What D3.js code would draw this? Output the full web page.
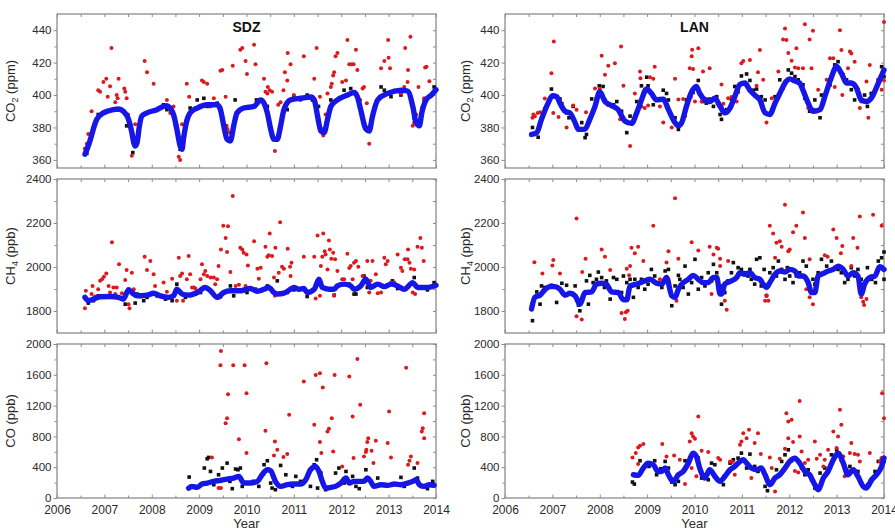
<!DOCTYPE html>
<html><head><meta charset="utf-8">
<script src="https://cdn.jsdelivr.net/npm/d3@7"></script>
<style>
body{margin:0;background:#fff}
svg{display:block}
text{font-family:"Liberation Sans",Arial,sans-serif}
</style>
</head><body>
<svg id="chart" width="895" height="530"></svg>
<script>
// ---------------- DATA ----------------
const yearTicks = [2006,2007,2008,2009,2010,2011,2012,2013,2014];
const yearMinor = [2006.5,2007.5,2008.5,2009.5,2010.5,2011.5,2012.5,2013.5];
const co2Ticks = [360,380,400,420,440];
const co2Minor = [370,390,410,430];
const ch4Ticks = [1800,2000,2200,2400];
const ch4Minor = [1900,2100,2300];
const coTicks = [0,400,800,1200,1600,2000];
const coMinor = [200,600,1000,1400,1800];
const stations = ["SDZ","LAN"];

// SDZ CO2
const sdzCo2Line = [[2006.59,363.5],[2006.66,368.6],[2006.84,385],[2006.98,389],[2007.19,391],[2007.30,391.4],[2007.40,390],[2007.51,385],[2007.58,377],[2007.62,370.6],[2007.65,368.6],[2007.69,370.6],[2007.74,381],[2007.79,387],[2007.90,389],[2008.11,391],[2008.25,393],[2008.32,393.5],[2008.39,392],[2008.46,388],[2008.53,379],[2008.60,368.6],[2008.64,366.6],[2008.67,373],[2008.73,383],[2008.81,389],[2008.96,392],[2009.17,394],[2009.38,394],[2009.45,391],[2009.52,381],[2009.59,372.7],[2009.66,371.7],[2009.73,381],[2009.80,389],[2009.94,392],[2010.16,393],[2010.30,397],[2010.37,395],[2010.44,389],[2010.51,379],[2010.58,372.7],[2010.65,372.7],[2010.72,381],[2010.79,391],[2010.93,397],[2011.14,398],[2011.36,398.8],[2011.43,397],[2011.50,387],[2011.57,377.8],[2011.64,376.8],[2011.71,385],[2011.78,393],[2011.92,397],[2012.13,400],[2012.27,401.6],[2012.34,399],[2012.41,391],[2012.52,379],[2012.59,377.8],[2012.66,387],[2012.77,397],[2012.98,401],[2013.26,403],[2013.40,402.5],[2013.51,393],[2013.58,383],[2013.65,381],[2013.70,389],[2013.79,397],[2013.90,400],[2014.00,403.3]];
const sdzCo2Red = [[2006.59,367],[2006.63,370],[2006.66,376],[2006.73,390],[2006.87,403],[2006.91,402],[2006.98,408],[2007.04,410],[2007.07,399],[2007.12,405.5],[2007.15,429],[2007.23,395.5],[2007.26,400],[2007.28,398],[2007.30,410],[2007.42,404],[2007.44,402],[2007.47,398],[2007.50,388],[2007.58,362.5],[2007.65,382],[2007.85,421],[2007.90,414],[2008.04,407],[2008.32,397],[2008.39,389],[2008.46,393],[2008.50,381],[2008.53,381],[2008.57,362],[2008.60,360],[2008.64,382],[2008.74,407],[2008.79,399],[2009.06,409],[2009.10,408],[2009.17,407],[2009.24,393],[2009.31,398],[2009.45,415],[2009.49,415.5],[2009.56,399],[2009.58,381],[2009.60,379],[2009.63,377],[2009.71,418],[2009.87,428],[2009.91,429],[2009.98,421],[2010.01,413],[2010.16,431],[2010.19,419],[2010.37,410],[2010.40,402],[2010.44,401],[2010.45,405],[2010.49,403],[2010.54,402],[2010.60,365.5],[2010.67,394],[2010.72,395.5],[2010.78,403],[2010.81,414],[2010.86,409],[2010.87,426],[2010.93,419],[2011.00,400],[2011.14,397],[2011.21,424],[2011.43,410],[2011.48,429],[2011.55,399],[2011.59,379],[2011.62,375],[2011.67,388],[2011.71,401],[2011.78,405],[2011.80,407],[2011.83,412],[2011.85,414],[2011.88,424],[2011.92,426],[2012.02,408],[2012.10,409],[2012.13,434],[2012.17,419],[2012.22,419],[2012.26,419],[2012.31,428],[2012.34,415.5],[2012.40,397],[2012.45,404],[2012.48,405],[2012.54,395],[2012.59,370],[2012.84,416.5],[2012.91,421],[2012.99,434],[2013.00,423],[2013.03,416.5],[2013.23,402],[2013.26,401],[2013.33,405],[2013.35,429],[2013.40,408],[2013.41,415.5],[2013.46,436],[2013.51,381],[2013.54,383],[2013.58,388],[2013.63,405],[2013.68,387],[2013.70,392],[2013.75,398],[2013.77,417],[2013.80,417.5],[2013.86,408.5]];
const sdzCo2Black = [[2006.63,364],[2006.87,388],[2007.04,389.5],[2007.30,391],[2007.47,381],[2007.60,364.5],[2007.90,389],[2008.25,394],[2008.32,391],[2008.46,387],[2008.60,366.5],[2008.81,392],[2008.96,397],[2009.10,398],[2009.17,393],[2009.38,395],[2009.45,392],[2009.76,397],[2010.21,397],[2010.44,393],[2010.65,373],[2010.86,391],[2011.00,399],[2011.28,400],[2011.39,397],[2011.52,393],[2011.78,397],[2011.99,398],[2012.06,403],[2012.20,404],[2012.52,380],[2012.84,405],[2012.91,403],[2013.05,399],[2013.26,400],[2013.54,386],[2013.75,397],[2013.96,405]];

// LAN CO2
const lanCo2Line = [[2006.56,375.7],[2006.67,376.8],[2006.77,385],[2006.91,395],[2007.00,399.6],[2007.09,399],[2007.16,395],[2007.27,390],[2007.37,389],[2007.48,383],[2007.55,378.8],[2007.69,379],[2007.79,385],[2007.90,393],[2008.00,402],[2008.11,396],[2008.25,393.5],[2008.39,391],[2008.53,384],[2008.67,382.5],[2008.78,389],[2008.88,397],[2008.99,403.7],[2009.09,401],[2009.20,397],[2009.34,397.5],[2009.45,391],[2009.59,383],[2009.66,381],[2009.73,383],[2009.83,393],[2009.94,402],[2010.04,405.3],[2010.11,401],[2010.22,397],[2010.32,396],[2010.43,398],[2010.54,393],[2010.64,389],[2010.75,392],[2010.85,399],[2010.96,406.6],[2011.06,407.4],[2011.17,403],[2011.27,400],[2011.38,397],[2011.49,389],[2011.59,388],[2011.70,395],[2011.80,401],[2011.94,408.6],[2012.01,410],[2012.12,408.6],[2012.22,407.4],[2012.29,403],[2012.40,395],[2012.50,390],[2012.65,391],[2012.75,399],[2012.89,411],[2013.00,417.6],[2013.10,413.5],[2013.21,407.4],[2013.31,407.4],[2013.42,404.3],[2013.52,397],[2013.63,396],[2013.73,398],[2013.88,407.4],[2014.00,415.5]];
const lanCo2Red = [[2006.58,386],[2006.60,388],[2006.63,387],[2006.69,389],[2006.74,389.4],[2006.84,397.8],[2006.98,413.5],[2007.03,433],[2007.02,389],[2007.13,386.5],[2007.30,380],[2007.44,393.5],[2007.51,391],[2007.71,389.4],[2007.90,404],[2008.00,403.7],[2008.04,424.3],[2008.11,412.5],[2008.18,418],[2008.32,419.6],[2008.43,385],[2008.45,430],[2008.50,405.7],[2008.64,368.6],[2008.74,401],[2008.85,414.5],[2008.86,410.4],[2008.88,393],[2008.95,392],[2009.02,393.5],[2009.06,411],[2009.13,410],[2009.16,417.5],[2009.27,393],[2009.34,383],[2009.52,380],[2009.59,410],[2009.66,397.2],[2009.76,397.5],[2009.80,387],[2009.90,416.5],[2009.94,424],[2009.95,428],[2009.97,416],[2010.01,396],[2010.08,428.8],[2010.15,396],[2010.18,414.5],[2010.25,397.5],[2010.32,416.5],[2010.57,406.5],[2010.61,394.7],[2010.71,398],[2010.78,398.8],[2010.89,396],[2010.92,402],[2010.99,419.6],[2011.03,421],[2011.17,421.6],[2011.31,405.7],[2011.34,414],[2011.38,427.8],[2011.45,409.4],[2011.52,383],[2011.63,398],[2011.77,414.5],[2011.87,434.3],[2011.91,441],[2011.94,434],[2011.98,426],[2012.05,421.2],[2012.12,417],[2012.15,428.8],[2012.19,416.5],[2012.29,416.5],[2012.33,443.7],[2012.40,392],[2012.43,434.3],[2012.47,416.5],[2012.50,439.6],[2012.61,403.3],[2012.79,409.4],[2012.86,422.7],[2012.93,422.7],[2012.96,405],[2013.07,440],[2013.10,427.8],[2013.12,400],[2013.24,416.5],[2013.28,426.8],[2013.31,425.7],[2013.38,420.6],[2013.49,392],[2013.52,396],[2013.63,408.4],[2013.67,386],[2013.70,418.6],[2013.88,409.4],[2013.95,403.3],[2014.00,445],[2014.00,409]];
const lanCo2Black = [[2006.58,380],[2006.70,374],[2006.84,391.4],[2006.98,403.7],[2007.09,399],[2007.16,397.6],[2007.20,394.7],[2007.30,389],[2007.35,386],[2007.44,393],[2007.62,383],[2007.69,373.7],[2007.72,375.7],[2007.83,397.6],[2007.93,397.8],[2007.99,405.7],[2008.07,405.3],[2008.11,397],[2008.18,394],[2008.29,394],[2008.36,396],[2008.46,390],[2008.57,376.8],[2008.64,387],[2008.78,396],[2008.88,405.7],[2008.99,411],[2009.02,405.7],[2009.13,394],[2009.24,397.2],[2009.34,403],[2009.41,401],[2009.45,397],[2009.59,386],[2009.66,378.8],[2009.69,382],[2009.83,397],[2009.92,399],[2009.97,401.6],[2010.08,409],[2010.18,396],[2010.25,395],[2010.32,397.5],[2010.40,393],[2010.47,399],[2010.54,388],[2010.57,385],[2010.68,391],[2010.78,397.5],[2010.85,405.3],[2010.92,402],[2010.99,411.8],[2011.10,413],[2011.17,409],[2011.24,403],[2011.31,403.7],[2011.41,399],[2011.49,397],[2011.63,391],[2011.70,399],[2011.80,409.4],[2011.87,404.3],[2011.98,415.5],[2012.05,413.5],[2012.12,411.4],[2012.19,409.4],[2012.29,406.3],[2012.33,398],[2012.43,390],[2012.50,391],[2012.54,397],[2012.65,386],[2012.68,400],[2012.86,406.3],[2012.96,418.6],[2013.03,420.6],[2013.14,412.4],[2013.21,409.4],[2013.31,403.3],[2013.38,397],[2013.45,403.3],[2013.52,397],[2013.59,400],[2013.65,393],[2013.73,401],[2013.88,409.4],[2013.95,417.5],[2014.00,411.4]];

// SDZ CH4
const sdzCh4Line = [[2006.59,1862],[2006.66,1847],[2006.77,1854],[2006.91,1865],[2007.12,1866],[2007.30,1862],[2007.40,1854],[2007.51,1896],[2007.58,1884],[2007.69,1869],[2007.90,1872],[2008.04,1881],[2008.18,1869],[2008.36,1862],[2008.46,1869],[2008.53,1899],[2008.64,1877],[2008.78,1872],[2008.96,1884],[2009.13,1907],[2009.24,1892],[2009.38,1862],[2009.52,1884],[2009.66,1892],[2009.87,1892],[2010.08,1902],[2010.23,1890],[2010.37,1899],[2010.47,1907],[2010.58,1884],[2010.65,1877],[2010.79,1881],[2010.93,1899],[2011.00,1907],[2011.11,1899],[2011.21,1902],[2011.28,1884],[2011.43,1899],[2011.53,1944],[2011.60,1907],[2011.74,1899],[2011.85,1899],[2011.92,1914],[2012.06,1922],[2012.20,1914],[2012.27,1899],[2012.41,1914],[2012.52,1944],[2012.62,1907],[2012.77,1922],[2012.91,1911],[2013.05,1922],[2013.19,1914],[2013.33,1899],[2013.51,1929],[2013.61,1907],[2013.82,1907],[2014.00,1917]];
const sdzCh4Red = [[2006.59,1812],[2006.61,1892],[2006.73,1877],[2006.75,1914],[2006.80,1866],[2006.87,1899],[2006.91,1937],[2006.95,1944],[2006.99,1956],[2007.04,1971],[2007.09,1914],[2007.12,1884],[2007.16,2113],[2007.19,1907],[2007.23,1877],[2007.26,1907],[2007.31,2012],[2007.37,1881],[2007.44,1941],[2007.47,1986],[2007.51,1831],[2007.53,1812],[2007.58,1974],[2007.62,1899],[2007.85,2047],[2007.90,1986],[2007.97,2027],[2008.04,1967],[2008.07,1914],[2008.25,1929],[2008.32,1887],[2008.43,1947],[2008.53,1847],[2008.57,2042],[2008.60,1959],[2008.64,1971],[2008.66,1847],[2008.74,1944],[2008.78,2050],[2008.81,1967],[2008.85,1907],[2008.89,1907],[2008.92,1902],[2009.03,1944],[2009.06,2012],[2009.10,1967],[2009.13,1982],[2009.17,1959],[2009.24,1952],[2009.31,1952],[2009.34,1922],[2009.38,1944],[2009.41,2004],[2009.45,1862],[2009.46,2080],[2009.51,2188],[2009.56,2132],[2009.59,2068],[2009.61,2185],[2009.66,1977],[2009.71,2323],[2009.77,1914],[2009.80,1892],[2009.84,1919],[2009.87,2087],[2009.91,2080],[2009.94,2065],[2009.98,1914],[2010.00,2057],[2010.03,2007],[2010.16,2117],[2010.23,1992],[2010.26,1947],[2010.30,1997],[2010.40,2092],[2010.44,2047],[2010.47,2053],[2010.49,2152],[2010.54,2050],[2010.58,1952],[2010.60,1869],[2010.61,2087],[2010.68,1974],[2010.71,2203],[2010.75,2001],[2010.79,1992],[2010.87,2083],[2010.92,2001],[2010.93,1959],[2010.95,2019],[2011.21,2047],[2011.43,2047],[2011.46,1857],[2011.50,2143],[2011.53,1929],[2011.55,1869],[2011.57,2004],[2011.60,2047],[2011.62,2152],[2011.65,2072],[2011.67,2057],[2011.71,1989],[2011.74,2120],[2011.76,2080],[2011.79,2038],[2011.83,2065],[2011.85,1869],[2011.87,2035],[2011.92,1982],[2012.02,1944],[2012.06,1944],[2012.13,2060],[2012.17,1995],[2012.20,2004],[2012.24,1944],[2012.27,2019],[2012.31,2027],[2012.36,2001],[2012.45,1959],[2012.52,1932],[2012.55,2027],[2012.59,1884],[2012.62,1937],[2012.66,2027],[2012.73,1967],[2012.77,1881],[2012.84,1884],[2012.91,2042],[2012.94,2012],[2012.98,2027],[2013.05,1929],[2013.12,1929],[2013.19,2057],[2013.26,1997],[2013.29,1982],[2013.34,2035],[2013.40,2035],[2013.41,2080],[2013.44,2019],[2013.47,1992],[2013.51,1884],[2013.54,1989],[2013.56,1877],[2013.61,2092],[2013.67,2132],[2013.70,2087],[2013.74,2027]];
const sdzCh4Black = [[2006.66,1836],[2006.77,1847],[2006.87,1869],[2007.12,1866],[2007.44,1831],[2007.51,1899],[2007.65,1836],[2007.69,1877],[2007.76,1866],[2007.83,1847],[2007.90,1862],[2008.11,1869],[2008.29,1854],[2008.43,1847],[2008.53,1922],[2008.71,1862],[2008.92,1877],[2009.03,1884],[2009.41,1862],[2009.66,1914],[2009.73,1869],[2010.01,1884],[2010.19,1899],[2010.44,1914],[2010.65,1937],[2010.86,1884],[2011.00,1896],[2011.28,1866],[2011.85,1872],[2012.17,1922],[2012.27,1877],[2012.31,1877],[2012.48,1959],[2012.55,1907],[2012.77,1922],[2013.08,1937],[2013.19,1902],[2013.54,1952],[2013.82,1896],[2013.96,1929]];

// LAN CH4
const lanCh4Line = [[2006.56,1809],[2006.63,1862],[2006.74,1872],[2006.84,1896],[2006.95,1911],[2007.05,1911],[2007.16,1899],[2007.27,1872],[2007.37,1881],[2007.48,1869],[2007.55,1839],[2007.58,1831],[2007.69,1884],[2007.83,1887],[2007.93,1922],[2008.04,1926],[2008.14,1922],[2008.25,1887],[2008.39,1884],[2008.50,1851],[2008.57,1851],[2008.64,1914],[2008.78,1922],[2008.95,1937],[2009.06,1944],[2009.20,1926],[2009.31,1922],[2009.41,1952],[2009.52,1869],[2009.59,1862],[2009.66,1899],[2009.73,1922],[2009.87,1944],[2009.97,1962],[2010.08,1944],[2010.18,1929],[2010.29,1929],[2010.40,1952],[2010.47,1952],[2010.54,1877],[2010.57,1877],[2010.64,1922],[2010.78,1937],[2010.89,1952],[2010.96,1974],[2011.06,1967],[2011.17,1974],[2011.27,1952],[2011.38,1944],[2011.45,1922],[2011.52,1907],[2011.59,1929],[2011.70,1967],[2011.80,1982],[2011.91,1977],[2012.01,1989],[2012.12,1982],[2012.19,1959],[2012.29,1959],[2012.40,1929],[2012.47,1884],[2012.54,1884],[2012.61,1959],[2012.72,1971],[2012.82,1982],[2012.93,1989],[2013.03,2004],[2013.14,1989],[2013.24,1959],[2013.35,1974],[2013.45,1959],[2013.52,1877],[2013.59,1922],[2013.70,1952],[2013.81,1959],[2013.91,2001],[2014.00,1989]];
const lanCh4Red = [[2006.62,2022],[2006.79,1971],[2007.00,2007],[2007.02,2032],[2007.16,1971],[2007.51,2220],[2007.62,1761],[2007.51,1776],[2007.63,1977],[2007.70,2038],[2008.04,2080],[2008.11,2047],[2008.22,1986],[2008.46,1791],[2008.53,1764],[2008.55,1794],[2008.57,1992],[2008.59,1801],[2008.62,1962],[2008.64,2004],[2008.67,2087],[2008.74,2062],[2008.81,2092],[2008.92,2027],[2009.13,2188],[2009.27,1944],[2009.41,2020],[2009.45,2072],[2009.59,2313],[2009.62,1847],[2009.66,2038],[2009.94,2113],[2010.08,2075],[2010.32,2092],[2010.36,1877],[2010.40,2057],[2010.47,2087],[2010.50,2083],[2010.54,2038],[2010.54,2004],[2010.64,1847],[2010.68,1806],[2010.71,2027],[2011.49,1847],[2011.52,1872],[2011.56,1847],[2011.59,2188],[2011.66,2152],[2011.70,2042],[2011.73,2110],[2011.80,2117],[2011.84,2092],[2011.91,2283],[2011.98,2072],[2012.01,2080],[2012.08,2158],[2012.15,2188],[2012.29,2248],[2012.33,2132],[2012.36,1899],[2012.43,1862],[2012.43,2035],[2012.50,1831],[2012.75,2053],[2012.81,2047],[2012.93,2170],[2013.00,2132],[2013.09,2062],[2013.12,2095],[2013.31,2004],[2013.35,2132],[2013.44,2087],[2013.49,2230],[2013.52,1862],[2013.56,1842],[2013.58,1827],[2013.63,1854],[2013.77,2238],[2013.95,2188]];
const lanCh4Black = [[2006.58,1756],[2006.67,1887],[2006.74,1831],[2006.77,1914],[2006.84,1907],[2006.98,1917],[2007.09,1839],[2007.20,1926],[2007.30,1917],[2007.41,1877],[2007.48,1914],[2007.55,1827],[2007.58,1801],[2007.65,1869],[2007.72,1937],[2007.76,1831],[2007.79,1962],[2007.86,1929],[2007.93,1944],[2007.97,1977],[2008.04,1952],[2008.10,1907],[2008.14,1937],[2008.22,1854],[2008.29,1952],[2008.36,1944],[2008.46,1884],[2008.50,1959],[2008.57,1929],[2008.64,1944],[2008.71,1862],[2008.74,1944],[2008.81,1907],[2008.88,1944],[2008.95,1899],[2009.02,1922],[2009.09,1989],[2009.16,1959],[2009.23,1929],[2009.31,1907],[2009.38,1982],[2009.45,1989],[2009.52,1824],[2009.59,1914],[2009.66,1962],[2009.69,1944],[2009.76,1907],[2009.80,2004],[2009.87,1877],[2009.94,1929],[2010.01,2035],[2010.08,1899],[2010.15,1952],[2010.22,1914],[2010.29,1974],[2010.36,1937],[2010.40,2012],[2010.47,1974],[2010.54,1914],[2010.57,1831],[2010.64,1884],[2010.71,1937],[2010.78,1974],[2010.82,2020],[2010.85,1944],[2010.92,1997],[2010.99,1989],[2011.06,1974],[2011.13,1959],[2011.17,1989],[2011.20,1944],[2011.27,1922],[2011.31,2035],[2011.38,2042],[2011.41,1914],[2011.47,1989],[2011.52,1869],[2011.59,1974],[2011.66,1997],[2011.73,1959],[2011.77,2027],[2011.84,1989],[2011.91,1944],[2011.96,1997],[2012.01,1959],[2012.08,1929],[2012.15,1959],[2012.22,1974],[2012.29,2027],[2012.36,2004],[2012.43,1907],[2012.50,1944],[2012.54,1922],[2012.61,1974],[2012.68,2035],[2012.79,2004],[2012.89,2027],[2012.96,1997],[2013.03,1989],[2013.10,1974],[2013.17,1929],[2013.24,1944],[2013.31,1997],[2013.38,1959],[2013.45,1989],[2013.52,1944],[2013.58,1907],[2013.65,1997],[2013.74,1944],[2013.82,1929],[2013.88,2027],[2013.95,2042],[2014.00,2068],[2014.00,1944]];

// SDZ CO
const sdzCoLine = [[2008.78,129],[2008.85,150],[2008.96,138],[2009.06,181],[2009.17,194],[2009.31,216],[2009.45,229],[2009.59,246],[2009.73,259],[2009.84,281],[2009.94,194],[2010.08,194],[2010.23,216],[2010.33,302],[2010.44,367],[2010.51,354],[2010.61,216],[2010.72,151],[2010.86,173],[2011.00,181],[2011.14,181],[2011.25,237],[2011.35,367],[2011.46,410],[2011.53,345],[2011.60,216],[2011.67,129],[2011.78,138],[2011.88,151],[2011.99,194],[2012.10,259],[2012.17,194],[2012.27,216],[2012.38,216],[2012.48,216],[2012.55,259],[2012.62,216],[2012.69,151],[2012.84,173],[2012.98,164],[2013.12,181],[2013.26,173],[2013.40,194],[2013.51,216],[2013.58,237],[2013.65,173],[2013.75,151],[2013.86,173],[2013.96,164]];
const sdzCoRed = [[2009.27,527],[2009.41,129],[2009.45,1724],[2009.46,1909],[2009.46,129],[2009.56,972],[2009.59,1037],[2009.61,1348],[2009.72,1724],[2009.84,764],[2009.96,1724],[2010.00,583],[2010.00,1361],[2010.40,872],[2010.42,1749],[2010.58,553],[2010.60,734],[2010.65,626],[2010.78,531],[2010.86,570],[2010.90,1080],[2011.21,1512],[2011.43,950],[2011.46,1598],[2011.55,1620],[2011.55,726],[2011.58,583],[2011.61,1434],[2011.71,864],[2011.74,898],[2011.80,1037],[2011.83,604],[2011.86,1598],[2012.02,410],[2012.17,1577],[2012.24,1058],[2012.26,518],[2012.34,1806],[2012.40,1210],[2012.48,540],[2012.52,596],[2012.53,626],[2012.55,726],[2012.57,777],[2012.64,613],[2012.68,453],[2012.73,743],[2012.98,713],[2013.01,1123],[2013.05,527],[2013.37,1693],[2013.41,432],[2013.44,484],[2013.47,540],[2013.61,453],[2013.70,864],[2013.72,907],[2013.75,1102],[2013.75,777]];
const sdzCoBlack = [[2008.79,272],[2009.11,389],[2009.17,510],[2009.20,527],[2009.24,345],[2009.31,173],[2009.41,302],[2009.49,389],[2009.59,453],[2009.65,216],[2009.70,121],[2009.77,376],[2009.82,367],[2009.87,389],[2009.91,151],[2010.14,216],[2010.26,151],[2010.37,432],[2010.44,484],[2010.51,194],[2010.54,129],[2010.61,108],[2010.72,423],[2010.83,302],[2010.97,151],[2011.04,281],[2011.14,216],[2011.35,151],[2011.43,432],[2011.48,497],[2011.50,129],[2011.57,324],[2011.67,108],[2011.88,324],[2011.95,389],[2012.06,194],[2012.10,345],[2012.17,194],[2012.24,281],[2012.31,151],[2012.38,121],[2012.52,367],[2012.57,237],[2012.77,259],[2013.26,268],[2013.33,151],[2013.54,389],[2013.61,259],[2013.82,121],[2013.93,216]];

// LAN CO
const lanCoLine = [[2008.71,302],[2008.81,294],[2008.92,389],[2009.02,453],[2009.13,432],[2009.23,345],[2009.31,345],[2009.38,389],[2009.45,302],[2009.55,216],[2009.66,302],[2009.76,345],[2009.87,453],[2009.97,583],[2010.04,540],[2010.11,389],[2010.22,259],[2010.32,367],[2010.43,281],[2010.54,216],[2010.64,281],[2010.75,367],[2010.85,410],[2010.96,475],[2011.03,497],[2011.10,453],[2011.20,389],[2011.31,367],[2011.41,389],[2011.49,302],[2011.59,173],[2011.70,259],[2011.80,302],[2011.91,389],[2012.01,475],[2012.12,518],[2012.22,453],[2012.33,345],[2012.43,302],[2012.54,173],[2012.61,108],[2012.72,259],[2012.82,345],[2012.93,497],[2013.03,583],[2013.14,453],[2013.24,302],[2013.35,367],[2013.45,281],[2013.56,151],[2013.63,129],[2013.74,237],[2013.84,302],[2013.95,410],[2014.00,518]];
const lanCoRed = [[2008.69,527],[2008.76,583],[2008.81,656],[2008.85,678],[2008.92,700],[2008.81,440],[2009.32,700],[2009.41,540],[2009.57,553],[2009.69,497],[2009.80,181],[2009.90,734],[2009.94,842],[2009.97,799],[2010.01,769],[2009.94,389],[2010.04,281],[2010.08,1058],[2010.15,613],[2010.29,596],[2010.50,518],[2010.54,497],[2010.75,475],[2010.80,467],[2010.85,302],[2010.96,691],[2010.99,734],[2011.03,842],[2011.15,885],[2011.10,777],[2011.20,259],[2011.27,713],[2011.34,842],[2011.40,570],[2011.45,345],[2011.59,527],[2011.63,389],[2011.70,86],[2011.80,510],[2011.91,639],[2011.94,1102],[2011.98,993],[2012.05,1015],[2011.98,777],[2012.08,726],[2012.12,350],[2012.19,330],[2012.22,1261],[2012.22,799],[2012.26,604],[2012.33,453],[2012.40,497],[2012.54,734],[2012.58,510],[2012.65,561],[2012.72,410],[2012.75,497],[2012.82,626],[2012.93,864],[2013.00,648],[2013.03,799],[2013.07,1145],[2013.10,950],[2013.14,540],[2013.17,281],[2013.24,345],[2013.28,583],[2013.31,713],[2013.38,570],[2013.45,561],[2013.49,475],[2013.70,583],[2013.82,281],[2013.91,475],[2013.95,518],[2013.96,1361],[2014.00,1037]];
const lanCoBlack = [[2008.69,207],[2008.73,181],[2008.85,484],[2009.04,410],[2009.16,484],[2009.20,302],[2009.29,380],[2009.38,475],[2009.45,389],[2009.52,207],[2009.59,173],[2009.66,216],[2009.76,345],[2009.80,484],[2009.90,518],[2009.97,583],[2010.08,518],[2010.15,259],[2010.23,302],[2010.29,237],[2010.36,453],[2010.43,432],[2010.61,173],[2010.75,453],[2010.82,497],[2010.92,518],[2010.99,583],[2011.10,389],[2011.17,570],[2011.27,410],[2011.34,345],[2011.41,393],[2011.49,151],[2011.54,95],[2011.66,216],[2011.73,367],[2011.84,475],[2011.91,561],[2011.98,626],[2012.05,484],[2012.15,497],[2012.26,389],[2012.33,302],[2012.40,367],[2012.47,237],[2012.54,129],[2012.65,324],[2012.75,389],[2012.89,561],[2013.00,626],[2013.10,497],[2013.21,367],[2013.28,410],[2013.45,345],[2013.59,151],[2013.66,173],[2013.74,237],[2013.81,345],[2013.88,475],[2013.95,497],[2014.00,475]];

// ---------------- LAYOUT / DRAW ----------------
const svg = d3.select("#chart");
const colX = [[57,436],[505,884]];
const rowY = [[14,168],[179,333],[344,498]];
const rows = [
  {domain:[355,450], ticks:co2Ticks, minor:co2Minor, label:["CO","2"," (ppm)"],
   data:[[sdzCo2Red,sdzCo2Black,sdzCo2Line],[lanCo2Red,lanCo2Black,lanCo2Line]]},
  {domain:[1700,2400], ticks:ch4Ticks, minor:ch4Minor, label:["CH","4"," (ppb)"],
   data:[[sdzCh4Red,sdzCh4Black,sdzCh4Line],[lanCh4Red,lanCh4Black,lanCh4Line]]},
  {domain:[0,2000], ticks:coTicks, minor:coMinor, label:["CO",""," (ppb)"],
   data:[[sdzCoRed,sdzCoBlack,sdzCoLine],[lanCoRed,lanCoBlack,lanCoLine]]}
];
const frameColor = "#8c8c8c";
const textColor = "#2a2a2a";

function styleAxis(g){
  g.select(".domain").remove();
  g.selectAll(".tick line").attr("stroke", frameColor).attr("stroke-width",1);
  g.selectAll(".tick text").attr("fill", textColor).style("font-size","11.5px")
    .style("font-family",'"Liberation Sans",Arial,sans-serif');
}

rows.forEach((row, ri) => {
  [0,1].forEach(ci => {
    const [x0,x1] = colX[ci], [yT,yB] = rowY[ri];
    const x = d3.scaleLinear().domain([2006,2014]).range([x0,x1]);
    const y = d3.scaleLinear().domain(row.domain).range([yB,yT]);
    const g = svg.append("g");
    const clipId = `clip-${ri}-${ci}`;
    svg.append("clipPath").attr("id",clipId).append("rect")
      .attr("x",x0).attr("y",yT-3).attr("width",x1-x0+3).attr("height",yB-yT+3);

    // axes
    const left = g.append("g").attr("transform",`translate(${x0},0)`)
      .call(d3.axisLeft(y).tickValues(row.ticks).tickSize(3.5).tickPadding(2).tickFormat(d3.format("d")));
    styleAxis(left);
    const leftMinor = g.append("g").attr("transform",`translate(${x0},0)`)
      .call(d3.axisLeft(y).tickValues(row.minor).tickSize(2.5).tickFormat(""));
    styleAxis(leftMinor);
    const right = g.append("g").attr("transform",`translate(${x1},0)`)
      .call(d3.axisRight(y).tickValues(row.ticks.concat(row.minor)).tickSize(-3).tickFormat(""));
    styleAxis(right);
    const bottom = g.append("g").attr("transform",`translate(0,${yB})`)
      .call(d3.axisBottom(x).tickValues(yearTicks).tickSize(-3.5).tickPadding(7)
        .tickFormat(ri===2 ? d3.format("d") : ""));
    styleAxis(bottom);
    const bottomMinor = g.append("g").attr("transform",`translate(0,${yB})`)
      .call(d3.axisBottom(x).tickValues(yearMinor).tickSize(-2.5).tickFormat(""));
    styleAxis(bottomMinor);
    const top = g.append("g").attr("transform",`translate(0,${yT})`)
      .call(d3.axisTop(x).tickValues(yearTicks.concat(yearMinor)).tickSize(-3).tickFormat(""));
    styleAxis(top);
    bottom.selectAll(".tick text").style("font-size","12px");

    // frame
    g.append("rect").attr("x",x0).attr("y",yT).attr("width",x1-x0).attr("height",yB-yT)
      .attr("fill","none").attr("stroke",frameColor).attr("stroke-width",1.3);

    const [red, black, line] = row.data[ci];
    const marks = g.append("g").attr("clip-path",`url(#${clipId})`);
    marks.selectAll("rect.bk").data(black).join("rect").attr("class","bk")
      .attr("x",d=>x(d[0])-1.8).attr("y",d=>y(d[1])-1.8).attr("width",3.6).attr("height",3.6)
      .attr("fill","#111");
    marks.selectAll("circle.rd").data(red).join("circle").attr("class","rd")
      .attr("cx",d=>x(d[0])).attr("cy",d=>y(d[1])).attr("r",2).attr("fill","#dc1a1e");
    marks.append("path").datum(line)
      .attr("d", d3.line().x(d=>x(d[0])).y(d=>y(d[1])).curve(d3.curveMonotoneX))
      .attr("fill","none").attr("stroke","#1616e6").attr("stroke-width",5.4)
      .attr("stroke-linejoin","round").attr("stroke-linecap","round");

    // y-axis title
    const lx = ci===0 ? 15 : 470, ly = (yT+yB)/2;
    const t = svg.append("text").attr("transform",`translate(${lx},${ly}) rotate(-90)`)
      .attr("text-anchor","middle").attr("fill",textColor).style("font-size","13px");
    t.append("tspan").text(row.label[0]);
    if (row.label[1]) t.append("tspan").text(row.label[1]).attr("dy",3).style("font-size","9px");
    t.append("tspan").text(row.label[2]).attr("dy", row.label[1] ? -3 : 0);

    if (ri===0) {
      svg.append("text").attr("x",(x0+x1)/2).attr("y",31.5).attr("text-anchor","middle")
        .attr("fill","#111").style("font-size","14px").style("font-weight","bold").text(stations[ci]);
    }
    if (ri===2) {
      svg.append("text").attr("x",(x0+x1)/2).attr("y",528).attr("text-anchor","middle")
        .attr("fill",textColor).style("font-size","13px").text("Year");
    }
  });
});
</script>
</body></html>
